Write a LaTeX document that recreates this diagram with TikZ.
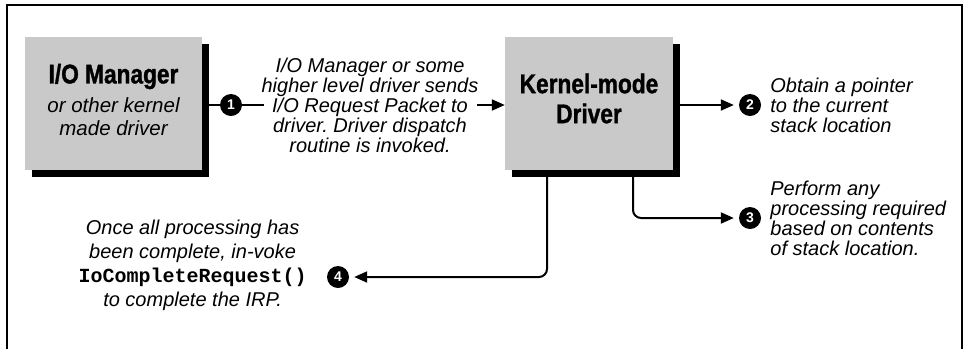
\documentclass[tikz,border=0pt]{standalone}
\usepackage{fontspec}
\setmainfont{Liberation Sans}
\setmonofont{Liberation Mono}
\newfontfamily\heavyfont[FakeStretch=0.84, BoldFeatures={FakeBold=1.2}]{Liberation Sans}
\definecolor{stipplegray}{rgb}{0.79,0.79,0.79}
\usetikzlibrary{positioning}
\usetikzlibrary{arrows.meta, shadows}
\frenchspacing

\begin{document}
\begin{tikzpicture}[x=1pt, y=-1pt,
    graybox/.style={fill=stipplegray, minimum height=133pt, inner sep=0pt,
      drop shadow={shadow xshift=7pt, shadow yshift=-7pt, fill=black, opacity=1}},
    boxtitle/.style={font=\heavyfont\bfseries\fontsize{27}{30}\selectfont, align=center, inner sep=0pt},
    boxsub/.style={font=\itshape\fontsize{20.5}{23}\selectfont, align=center, inner sep=0pt},
    stepnum/.style={circle, fill=black, text=white, minimum size=22pt, inner sep=0pt,
      font=\bfseries\fontsize{14}{14}\selectfont},
    note/.style={font=\itshape\fontsize{20}{20}\selectfont, inner sep=0pt},
    conn/.style={line width=2pt},
    arr/.style={line width=2pt, -{Triangle[length=13pt,width=11pt]}}]
  \useasboundingbox (0,0) rectangle (967,349);
  \draw[line width=1.5pt] (7,349) -- (7,5) -- (962,5) -- (962,349);

  % boxes
  \node[graybox, minimum width=177pt] (iom) at (113.5,103.5) {};
  \node[boxtitle] (iomtitle) at ([yshift=27pt]iom.center) {I/O Manager};
  \node[boxsub] (iomsub) at ([yshift=-13pt]iom.center) {or other kernel\\made driver};
  \node[graybox, minimum width=168pt] (kmd) at (589,103.5) {};
  \node[boxtitle] (kmdtitle) at ([yshift=5pt]kmd.center) {Kernel-mode\\Driver};

  % numbered steps
  \node[stepnum] (n1) at (231,105) {1};
  \node[stepnum] (n2) at (750,105) {2};
  \node[stepnum] (n3) at (750,218) {3};
  \node[stepnum] (n4) at (338,277) {4};

  \node[note, align=center] (t1) at (370,105) {I/O Manager or some\\higher level driver sends\\I/O Request Packet to\\driver. Driver dispatch\\routine is invoked.};
  \node[note, align=left, right=9pt of n2] (t2) {Obtain a pointer\\to the current\\stack location};
  \node[note, align=left, right=9pt of n3] (t3) {Perform any\\processing required\\based on contents\\of stack location.};
  \node[note, align=center, font=\itshape\fontsize{20}{24}\selectfont, left=20pt of n4, yshift=12pt] (t4) {Once all processing has\\been complete, in-voke\\{\upshape\ttfamily\bfseries IoCompleteRequest()}\\to complete the IRP.};

  \coordinate (t1in) at (264,105);
  \coordinate (t1out) at (477,105);

  % connectors
  \draw[conn] (iom.east |- n1) -- (n1);
  \draw[conn] (n1) -- (t1in);
  \draw[arr] (t1out) -- (t1out -| kmd.west);
  \draw[arr, shorten >=5pt] (kmd.east |- n2) -- (n2);
  \draw[arr, rounded corners=8pt, shorten >=5pt] ([xshift=44pt]kmd.south) |- (n3);
  \draw[arr, rounded corners=8pt, shorten >=5pt] ([xshift=-42pt]kmd.south) |- (n4);
\end{tikzpicture}
\end{document}
